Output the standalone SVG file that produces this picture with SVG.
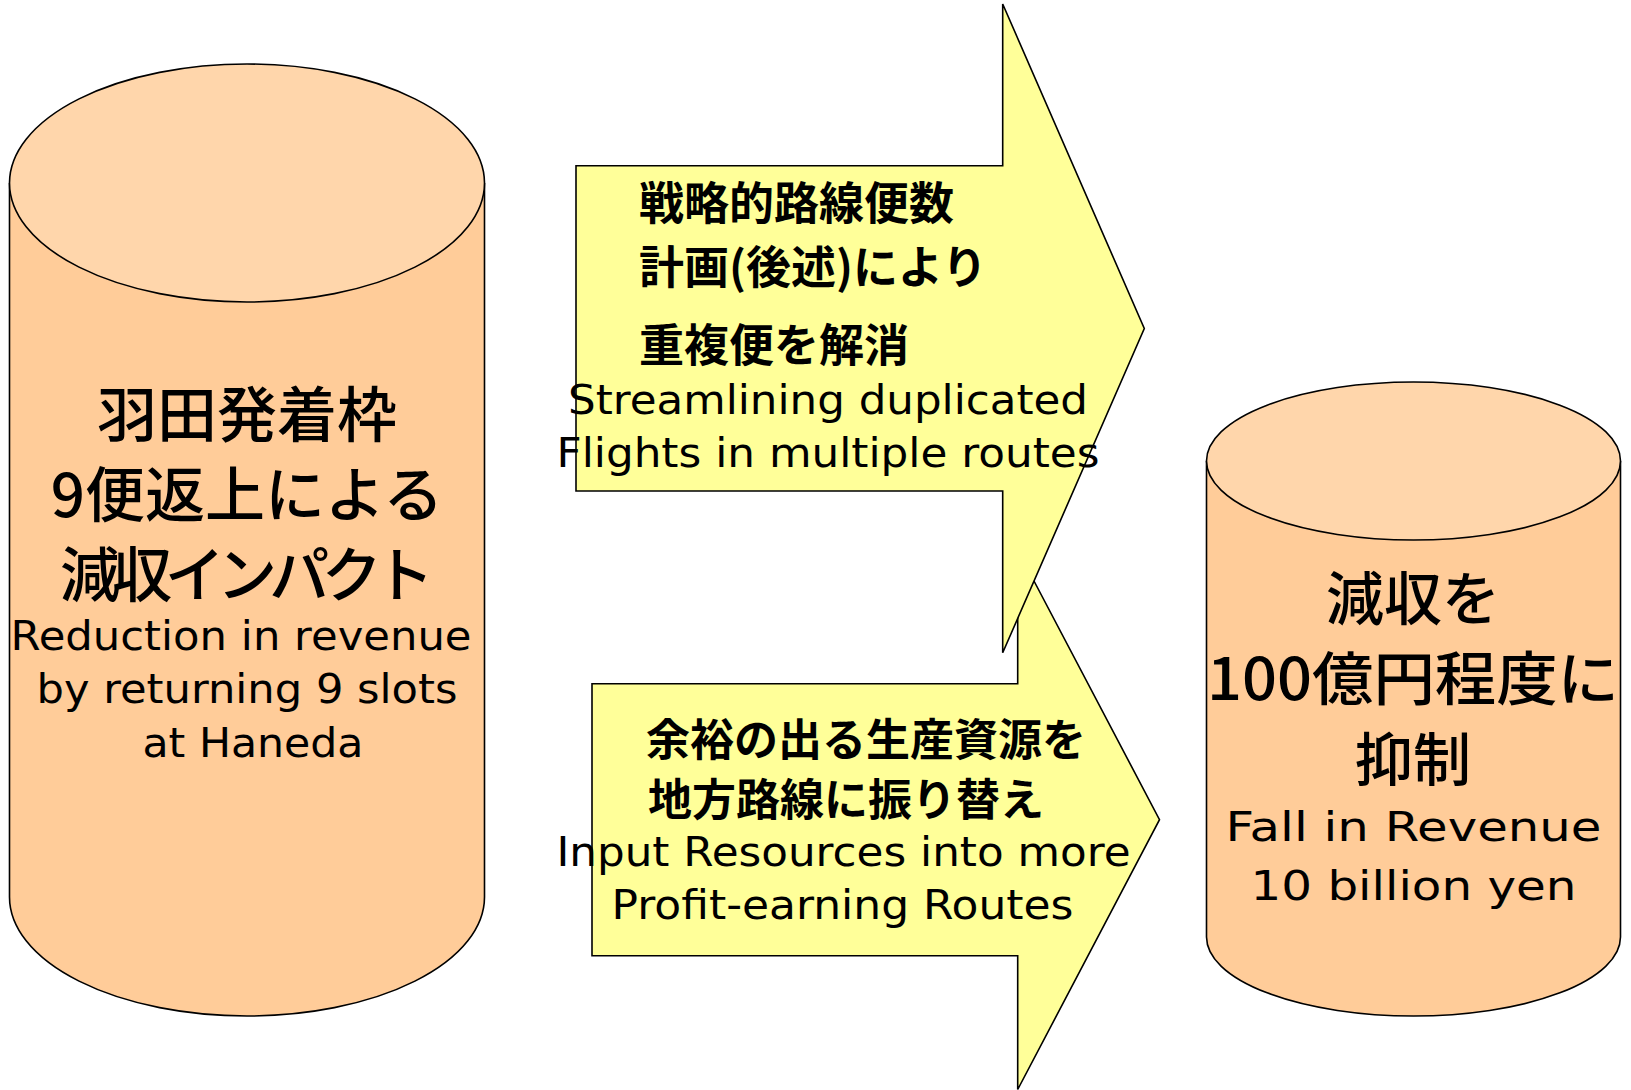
<svg xmlns="http://www.w3.org/2000/svg" width="1631" height="1090" viewBox="0 0 1631 1090">
<style>
.side{fill:#FFCC99;stroke:#000;stroke-width:1.6}
.top{fill:#FFD6AB;stroke:#000;stroke-width:1.6}
.arrow{fill:#FFFF99;stroke:#000;stroke-width:1.6;stroke-linejoin:miter}
.jp{font-family:"Noto Sans CJK JP","Noto Sans",sans-serif;font-weight:500;fill:#000;text-anchor:middle}
.jpb{font-family:"Noto Sans CJK JP","Noto Sans",sans-serif;font-weight:bold;fill:#000}
.en{font-family:"DejaVu Sans","Liberation Sans",sans-serif;fill:#000;text-anchor:middle}
</style>
<rect width="1631" height="1090" fill="#fff"/>
<g id="connectors">
<polygon id="arrow-bottom" class="arrow" points="592,683.7 1017.7,683.7 1017.7,550 1159.5,819.7 1017.7,1089.5 1017.7,955.7 592,955.7"/>
<polygon id="arrow-top" class="arrow" points="576,165.7 1002.7,165.7 1002.7,4 1144.3,328.5 1002.7,652.7 1002.7,491 576,491"/>
</g>
<g id="node-left">
<path class="side" d="M9.5,183 V897 A237.5,119 0 0 0 484.5,897 V183"/>
<ellipse class="top" cx="247" cy="183" rx="237.5" ry="119"/>
<text class="jp" x="247" y="437" font-size="60">羽田発着枠</text>
<text class="jp" x="247" y="517" font-size="60">9便返上による</text>
<text class="jp" x="247" y="597" font-size="60" textLength="374" lengthAdjust="spacing">減収インパクト</text>
<text class="en" x="241" y="650" font-size="40" textLength="461" lengthAdjust="spacingAndGlyphs">Reduction in revenue</text>
<text class="en" x="247" y="703" font-size="40" textLength="421" lengthAdjust="spacingAndGlyphs">by returning 9 slots</text>
<text class="en" x="253" y="757" font-size="40" textLength="221" lengthAdjust="spacingAndGlyphs">at Haneda</text>
</g>
<g id="node-top-arrow-text">
<text class="jpb" x="639" y="220" font-size="45">戦略的路線便数</text>
<text class="jpb" x="639" y="284" font-size="45">計画(後述)により</text>
<text class="jpb" x="639" y="362" font-size="45">重複便を解消</text>
<text class="en" x="828" y="414" font-size="40" textLength="520" lengthAdjust="spacingAndGlyphs">Streamlining duplicated</text>
<text class="en" x="828" y="467" font-size="40" textLength="543" lengthAdjust="spacingAndGlyphs">Flights in multiple routes</text>
</g>
<g id="node-bottom-arrow-text">
<text class="jpb" x="646" y="756" font-size="44">余裕の出る生産資源を</text>
<text class="jpb" x="648" y="816" font-size="44">地方路線に振り替え</text>
<text class="en" x="843.5" y="865.5" font-size="40" textLength="574" lengthAdjust="spacingAndGlyphs">Input Resources into more</text>
<text class="en" x="842.5" y="918.5" font-size="40" textLength="462" lengthAdjust="spacingAndGlyphs">Profit-earning Routes</text>
</g>
<g id="node-right">
<path class="side" d="M1206.5,461 V937 A207,79 0 0 0 1620.5,937 V461"/>
<ellipse class="top" cx="1413.5" cy="461" rx="207" ry="79"/>
<text class="jp" x="1413" y="620" font-size="58">減収を</text>
<text class="jp" x="1413" y="700" font-size="58" textLength="412" lengthAdjust="spacingAndGlyphs">100億円程度に</text>
<text class="jp" x="1413" y="781" font-size="58">抑制</text>
<text class="en" x="1413.5" y="840.5" font-size="40" textLength="376" lengthAdjust="spacingAndGlyphs">Fall in Revenue</text>
<text class="en" x="1413.5" y="900" font-size="40" textLength="326" lengthAdjust="spacingAndGlyphs">10 billion yen</text>
</g>
</svg>
